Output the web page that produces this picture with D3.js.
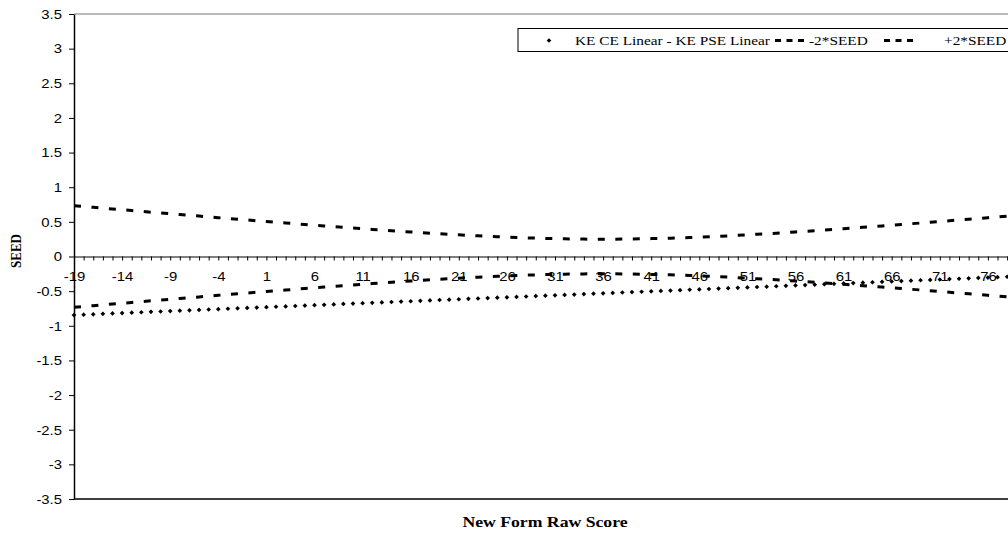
<!DOCTYPE html>
<html>
<head>
<meta charset="utf-8">
<script src="https://cdn.jsdelivr.net/npm/d3@7/dist/d3.min.js"></script>
<style>
  body { margin: 0; background: #fff; }
  svg { display: block; }
</style>
</head>
<body>
<svg id="chart" width="1008" height="535"></svg>
<script>
// New Form raw score categories
const scores = [-19,-18,-17,-16,-15,-14,-13,-12,-11,-10,-9,-8,-7,-6,-5,-4,-3,-2,-1,0,
  1,2,3,4,5,6,7,8,9,10,11,12,13,14,15,16,17,18,19,20,
  21,22,23,24,25,26,27,28,29,30,31,32,33,34,35,36,37,38,39,40,
  41,42,43,44,45,46,47,48,49,50,51,52,53,54,55,56,57,58,59,60,
  61,62,63,64,65,66,67,68,69,70,71,72,73,74,75,76,77,78,79,80];

// KE CE Linear - KE PSE Linear
const diffValues = [-0.845,-0.839,-0.834,-0.828,-0.822,-0.817,-0.811,-0.805,-0.799,-0.794,
  -0.788,-0.782,-0.777,-0.771,-0.765,-0.760,-0.754,-0.748,-0.742,-0.737,
  -0.731,-0.725,-0.720,-0.714,-0.708,-0.703,-0.697,-0.691,-0.685,-0.680,
  -0.674,-0.668,-0.663,-0.657,-0.651,-0.646,-0.640,-0.634,-0.628,-0.623,
  -0.617,-0.611,-0.606,-0.600,-0.594,-0.589,-0.583,-0.577,-0.571,-0.566,
  -0.560,-0.554,-0.549,-0.543,-0.537,-0.532,-0.526,-0.520,-0.514,-0.509,
  -0.503,-0.497,-0.492,-0.486,-0.480,-0.475,-0.469,-0.463,-0.457,-0.452,
  -0.446,-0.440,-0.435,-0.429,-0.423,-0.418,-0.412,-0.406,-0.400,-0.395,
  -0.389,-0.383,-0.378,-0.372,-0.366,-0.361,-0.355,-0.349,-0.343,-0.338,
  -0.332,-0.326,-0.321,-0.315,-0.309,-0.304,-0.298,-0.292,-0.286,-0.281];

// -2*SEED
const minusTwoSeed = [-0.733,-0.721,-0.710,-0.698,-0.686,-0.675,-0.663,-0.651,-0.640,-0.628,
  -0.617,-0.605,-0.594,-0.583,-0.571,-0.560,-0.549,-0.538,-0.527,-0.516,
  -0.505,-0.494,-0.483,-0.473,-0.462,-0.451,-0.441,-0.431,-0.421,-0.411,
  -0.401,-0.391,-0.382,-0.372,-0.363,-0.354,-0.345,-0.337,-0.328,-0.321,
  -0.313,-0.305,-0.298,-0.292,-0.286,-0.280,-0.274,-0.269,-0.265,-0.261,
  -0.258,-0.255,-0.253,-0.251,-0.250,-0.250,-0.250,-0.251,-0.253,-0.255,
  -0.258,-0.261,-0.265,-0.269,-0.274,-0.280,-0.286,-0.292,-0.298,-0.305,
  -0.313,-0.321,-0.328,-0.337,-0.345,-0.354,-0.363,-0.372,-0.382,-0.391,
  -0.401,-0.411,-0.421,-0.431,-0.441,-0.451,-0.462,-0.473,-0.483,-0.494,
  -0.505,-0.516,-0.527,-0.538,-0.549,-0.560,-0.571,-0.583,-0.594,-0.605];

// +2*SEED
const plusTwoSeed = [0.733,0.721,0.710,0.698,0.686,0.675,0.663,0.651,0.640,0.628,
  0.617,0.605,0.594,0.583,0.571,0.560,0.549,0.538,0.527,0.516,
  0.505,0.494,0.483,0.473,0.462,0.451,0.441,0.431,0.421,0.411,
  0.401,0.391,0.382,0.372,0.363,0.354,0.345,0.337,0.328,0.321,
  0.313,0.305,0.298,0.292,0.286,0.280,0.274,0.269,0.265,0.261,
  0.258,0.255,0.253,0.251,0.250,0.250,0.250,0.251,0.253,0.255,
  0.258,0.261,0.265,0.269,0.274,0.280,0.286,0.292,0.298,0.305,
  0.313,0.321,0.328,0.337,0.345,0.354,0.363,0.372,0.382,0.391,
  0.401,0.411,0.421,0.431,0.441,0.451,0.462,0.473,0.483,0.494,
  0.505,0.516,0.527,0.538,0.549,0.560,0.571,0.583,0.594,0.605];

const yTicks = [-3.5,-3,-2.5,-2,-1.5,-1,-0.5,0,0.5,1,1.5,2,2.5,3,3.5];
const seriesNames = ["KE CE Linear - KE PSE Linear", "-2*SEED", "+2*SEED"];
const xTitle = "New Form Raw Score";
const yTitle = "SEED";

// ---- layout ----
const margin = { left: 74, top: 14, bottom: 36 };
const step = 9.62;               // px per score point
const H = 535;
const SX = 1.18;                 // horizontal text stretch
const sansFont = "'Liberation Sans', Arial, sans-serif";
const serifFont = "'Liberation Serif', 'Times New Roman', serif";

const svg = d3.select("#chart");

const x = d3.scalePoint()
  .domain(scores)
  .range([margin.left, margin.left + step * (scores.length - 1)]);
const y = d3.scaleLinear()
  .domain([-3.5, 3.5])
  .range([H - margin.bottom, margin.top]);

const xRight = x(scores[scores.length - 1]);

// plot area frame
svg.append("line")
  .attr("x1", margin.left).attr("x2", xRight)
  .attr("y1", y(3.5)).attr("y2", y(3.5))
  .attr("stroke", "#777").attr("stroke-width", 1);
svg.append("line")
  .attr("x1", margin.left).attr("x2", xRight)
  .attr("y1", y(-3.5)).attr("y2", y(-3.5))
  .attr("stroke", "#000").attr("stroke-width", 1.4);

// value axis
const yAxis = svg.append("g")
  .attr("transform", `translate(${margin.left},0)`)
  .call(d3.axisLeft(y).tickValues(yTicks).tickSizeInner(5).tickSizeOuter(0)
    .tickFormat(d => String(d)));
yAxis.select(".domain").attr("stroke", "#000").attr("stroke-width", 1.5);
yAxis.selectAll(".tick line").attr("stroke", "#000");
yAxis.selectAll(".tick text")
  .attr("x", -12 / SX).attr("dy", "0.34em")
  .attr("transform", `scale(${SX},1)`)
  .style("font-family", sansFont).style("font-size", "12.6px").attr("fill", "#000");

// category axis crossing at zero
const xAxis = svg.append("g")
  .attr("transform", `translate(0,${y(0)})`)
  .call(d3.axisBottom(x).tickValues(scores).tickSizeInner(4).tickSizeOuter(0)
    .tickFormat((d, i) => (i % 5 === 0 ? String(d) : "")));
xAxis.select(".domain").attr("stroke", "#000").attr("stroke-width", 1);
xAxis.selectAll(".tick line").attr("stroke", "#000");
xAxis.selectAll(".tick text")
  .attr("y", 25).attr("dy", 0)
  .attr("transform", `scale(${SX},1)`)
  .style("font-family", sansFont).style("font-size", "12.6px").attr("fill", "#000");

// dashed SEED bands
const line = d3.line().x(d => x(d[0])).y(d => y(d[1]));
[minusTwoSeed, plusTwoSeed].forEach(vals => {
  svg.append("path")
    .datum(scores.map((s, i) => [s, vals[i]]))
    .attr("d", line)
    .attr("fill", "none")
    .attr("stroke", "#000")
    .attr("stroke-width", 3)
    .attr("stroke-dasharray", "7,10.5");
});

// difference points: small rhombus markers
const marker = d3.symbol(d3.symbolSquare, 11);
svg.append("g").selectAll("path")
  .data(scores.map((s, i) => [s, diffValues[i]]))
  .join("path")
  .attr("d", marker)
  .attr("transform", d => `translate(${x(d[0])},${y(d[1])}) rotate(45)`)
  .attr("fill", "#000");

// legend
const lg = svg.append("g").attr("transform", "translate(518,28.5)");
lg.append("rect")
  .attr("width", 520).attr("height", 23)
  .attr("fill", "#fff").attr("stroke", "#000").attr("stroke-width", 1);
const legendText = (tx, str) => lg.append("text")
  .attr("transform", `translate(${tx},16) scale(${SX},1)`)
  .style("font-family", serifFont).style("font-size", "13px").attr("fill", "#000")
  .text(str);
lg.append("path").attr("d", marker).attr("transform", "translate(31,12) rotate(45)").attr("fill", "#000");
legendText(57, seriesNames[0]);
const legendDash = (tx) => lg.append("line")
  .attr("x1", tx).attr("x2", tx + 30).attr("y1", 12).attr("y2", 12)
  .attr("stroke", "#000").attr("stroke-width", 3).attr("stroke-dasharray", "6,5.5");
legendDash(257);
legendText(291, seriesNames[1]);
legendDash(366);
legendText(426, seriesNames[2]);

// axis titles
svg.append("text")
  .attr("transform", `translate(545,527) scale(${SX},1)`)
  .attr("text-anchor", "middle")
  .style("font-family", serifFont).style("font-size", "15px").style("font-weight", "bold")
  .text(xTitle);
svg.append("text")
  .attr("transform", `translate(21,251) scale(${SX},1) rotate(-90)`)
  .attr("text-anchor", "middle")
  .style("font-family", serifFont).style("font-size", "13px").style("font-weight", "bold")
  .text(yTitle);
</script>
</body>
</html>
